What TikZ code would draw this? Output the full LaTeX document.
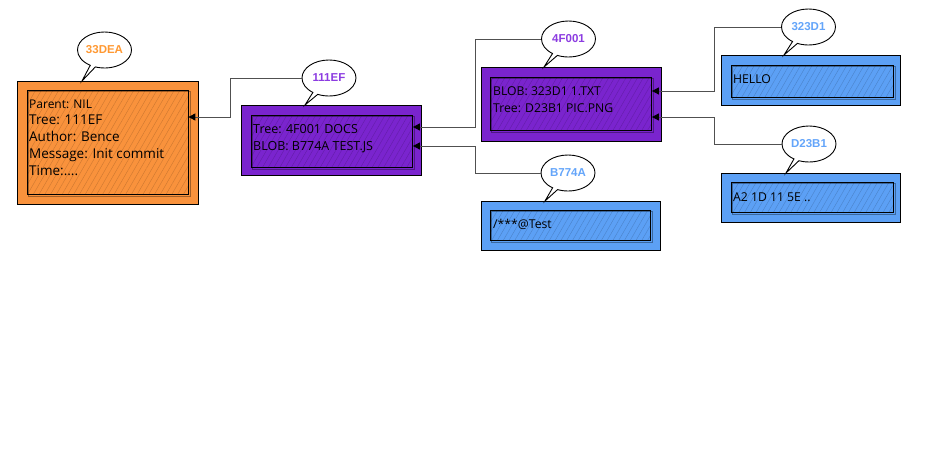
\documentclass[tikz,border=0pt]{standalone}
\usepackage{fontspec}
\setmainfont{Open Sans}
\newfontfamily\bubblefont{Liberation Sans}
\usetikzlibrary{shapes.callouts,patterns.meta,arrows.meta,calc}

\definecolor{corange}{RGB}{249,146,60}
\definecolor{cpurple}{RGB}{122,36,206}
\definecolor{cblue}{RGB}{92,160,245}
\definecolor{torange}{RGB}{255,153,51}
\definecolor{tpurple}{RGB}{140,60,225}
\definecolor{tblue}{RGB}{100,165,250}
\definecolor{linegray}{RGB}{80,80,80}

\begin{document}
\begin{tikzpicture}[x=1pt,y=-1pt,
  obox/.style={anchor=north west, inner sep=0pt, draw=black, line width=1.1pt, fill=#1},
  ibox/.style={anchor=north west, inner sep=0pt, draw=black, line width=0.9pt,
    preaction={fill=#1}, pattern={Lines[angle=60,distance=5pt,line width=0.4pt]},
    pattern color=#1!82!black},
  sketchline/.style={draw=black, line width=0.6pt, opacity=0.35},
  txt/.style={anchor=mid west, inner sep=0pt, text=black, font=\fontsize{#1}{#1}\selectfont},
  bub/.style={ellipse callout, draw=black, fill=white, line width=0.9pt,
    minimum width=54pt, minimum height=36pt, inner sep=0pt, text=#1,
    font=\bubblefont\bfseries\fontsize{11.5}{13}\selectfont, callout pointer arc=12},
  conn/.style={draw=linegray, line width=0.9pt, -{Triangle[length=7pt,width=7pt,color=black]}}
]
\useasboundingbox (0,0) rectangle (942,462);

% ---------- boxes ----------
\node[obox=corange, minimum width=181pt, minimum height=123pt] (c) at (17,81) {};
\node[ibox=corange, minimum width=161pt, minimum height=104pt] (ci) at (27,90) {};
\draw[sketchline] ($(ci.north west)+(1.5,1.5)$) rectangle ($(ci.south east)+(1.5,1.5)$);

\node[obox=cpurple, minimum width=180pt, minimum height=70pt] (t1) at (241,105) {};
\node[ibox=cpurple, minimum width=161pt, minimum height=52pt] (t1i) at (251,115) {};
\draw[sketchline] ($(t1i.north west)+(1.5,1.5)$) rectangle ($(t1i.south east)+(1.5,1.5)$);

\node[obox=cpurple, minimum width=180pt, minimum height=74pt] (t2) at (481,67) {};
\node[ibox=cpurple, minimum width=161pt, minimum height=53pt] (t2i) at (490,77) {};
\draw[sketchline] ($(t2i.north west)+(1.5,1.5)$) rectangle ($(t2i.south east)+(1.5,1.5)$);

\node[obox=cblue, minimum width=179pt, minimum height=49pt] (bl1) at (481,201) {};
\node[ibox=cblue, minimum width=160pt, minimum height=30pt] (bl1i) at (490,210) {};
\draw[sketchline] ($(bl1i.north west)+(1.5,1.5)$) rectangle ($(bl1i.south east)+(1.5,1.5)$);

\node[obox=cblue, minimum width=179pt, minimum height=50pt] (bl2) at (721,55) {};
\node[ibox=cblue, minimum width=162pt, minimum height=32pt] (bl2i) at (731,65) {};
\draw[sketchline] ($(bl2i.north west)+(1.5,1.5)$) rectangle ($(bl2i.south east)+(1.5,1.5)$);

\node[obox=cblue, minimum width=179pt, minimum height=49pt] (bl3) at (721,173) {};
\node[ibox=cblue, minimum width=162pt, minimum height=30pt] (bl3i) at (731,182) {};
\draw[sketchline] ($(bl3i.north west)+(1.5,1.5)$) rectangle ($(bl3i.south east)+(1.5,1.5)$);

% ---------- texts ----------
\node[txt=12] (c1) at (29,106) {Parent: NIL};
\node[txt=13.5] (c2) at (29,122) {Tree: 111EF};
\node[txt=13.5] (c3) at (29,139) {Author: Bence};
\node[txt=13.5] (c4) at (29,156) {Message: Init commit};
\node[txt=13.5] (c5) at (29,173) {Time:....};

\node[txt=12.5] (t1a) at (253,131) {Tree: 4F001 DOCS};
\node[txt=12.5] (t1b) at (253,148) {BLOB: B774A TEST.JS};

\node[txt=12.2] (t2a) at (493,93) {BLOB: 323D1 1.TXT};
\node[txt=12.2] (t2b) at (493,110) {Tree: D23B1 PIC.PNG};

\node[txt=12.2] (bl1a) at (493,226) {/***@Test};
\node[txt=12.2] (bl2a) at (733,81) {HELLO};
\node[txt=12.2] (bl3a) at (733,199) {A2 1D 11 5E ..};

% ---------- bubbles ----------
\coordinate (p1) at (82,81);
\coordinate (p2) at (305,105);
\coordinate (p3) at (544,67);
\coordinate (p4) at (545,201);
\coordinate (p5) at (784,55);
\coordinate (p6) at (786,173);
\node[bub=torange, callout absolute pointer=(p1)] (b33) at (104.5,50) {33DEA};
\node[bub=tpurple, callout absolute pointer=(p2)] (b111) at (329,78) {111EF};
\node[bub=tpurple, callout absolute pointer=(p3)] (b4F) at (568.5,39) {4F001};
\node[bub=tblue, callout absolute pointer=(p4)] (bB77) at (568,173) {B774A};
\node[bub=tblue, callout absolute pointer=(p5)] (b323) at (808.5,27) {323D1};
\node[bub=tblue, callout absolute pointer=(p6)] (bD23) at (809,144) {D23B1};

% ---------- connectors ----------
\coordinate (e1) at (ci.east |- 0,117);
\coordinate (e2) at (t1i.east |- 0,127);
\coordinate (e3) at (t1i.east |- 0,146);
\coordinate (e4) at (t2i.east |- 0,91);
\coordinate (e5) at (t2i.east |- 0,117);
\coordinate (k1) at (230,117);
\coordinate (k2) at (475,127);
\coordinate (k3) at (475,146);
\coordinate (k4) at (714,91);
\coordinate (k5) at (714,117);
\draw[conn] (b111.west) -| (k1) -- (e1);
\draw[conn] (b4F.west) -| (k2) -- (e2);
\draw[conn] (bB77.west) -| (k3) -- (e3);
\draw[conn] (b323.west) -| (k4) -- (e4);
\draw[conn] (bD23.west) -| (k5) -- (e5);
\end{tikzpicture}
\end{document}
